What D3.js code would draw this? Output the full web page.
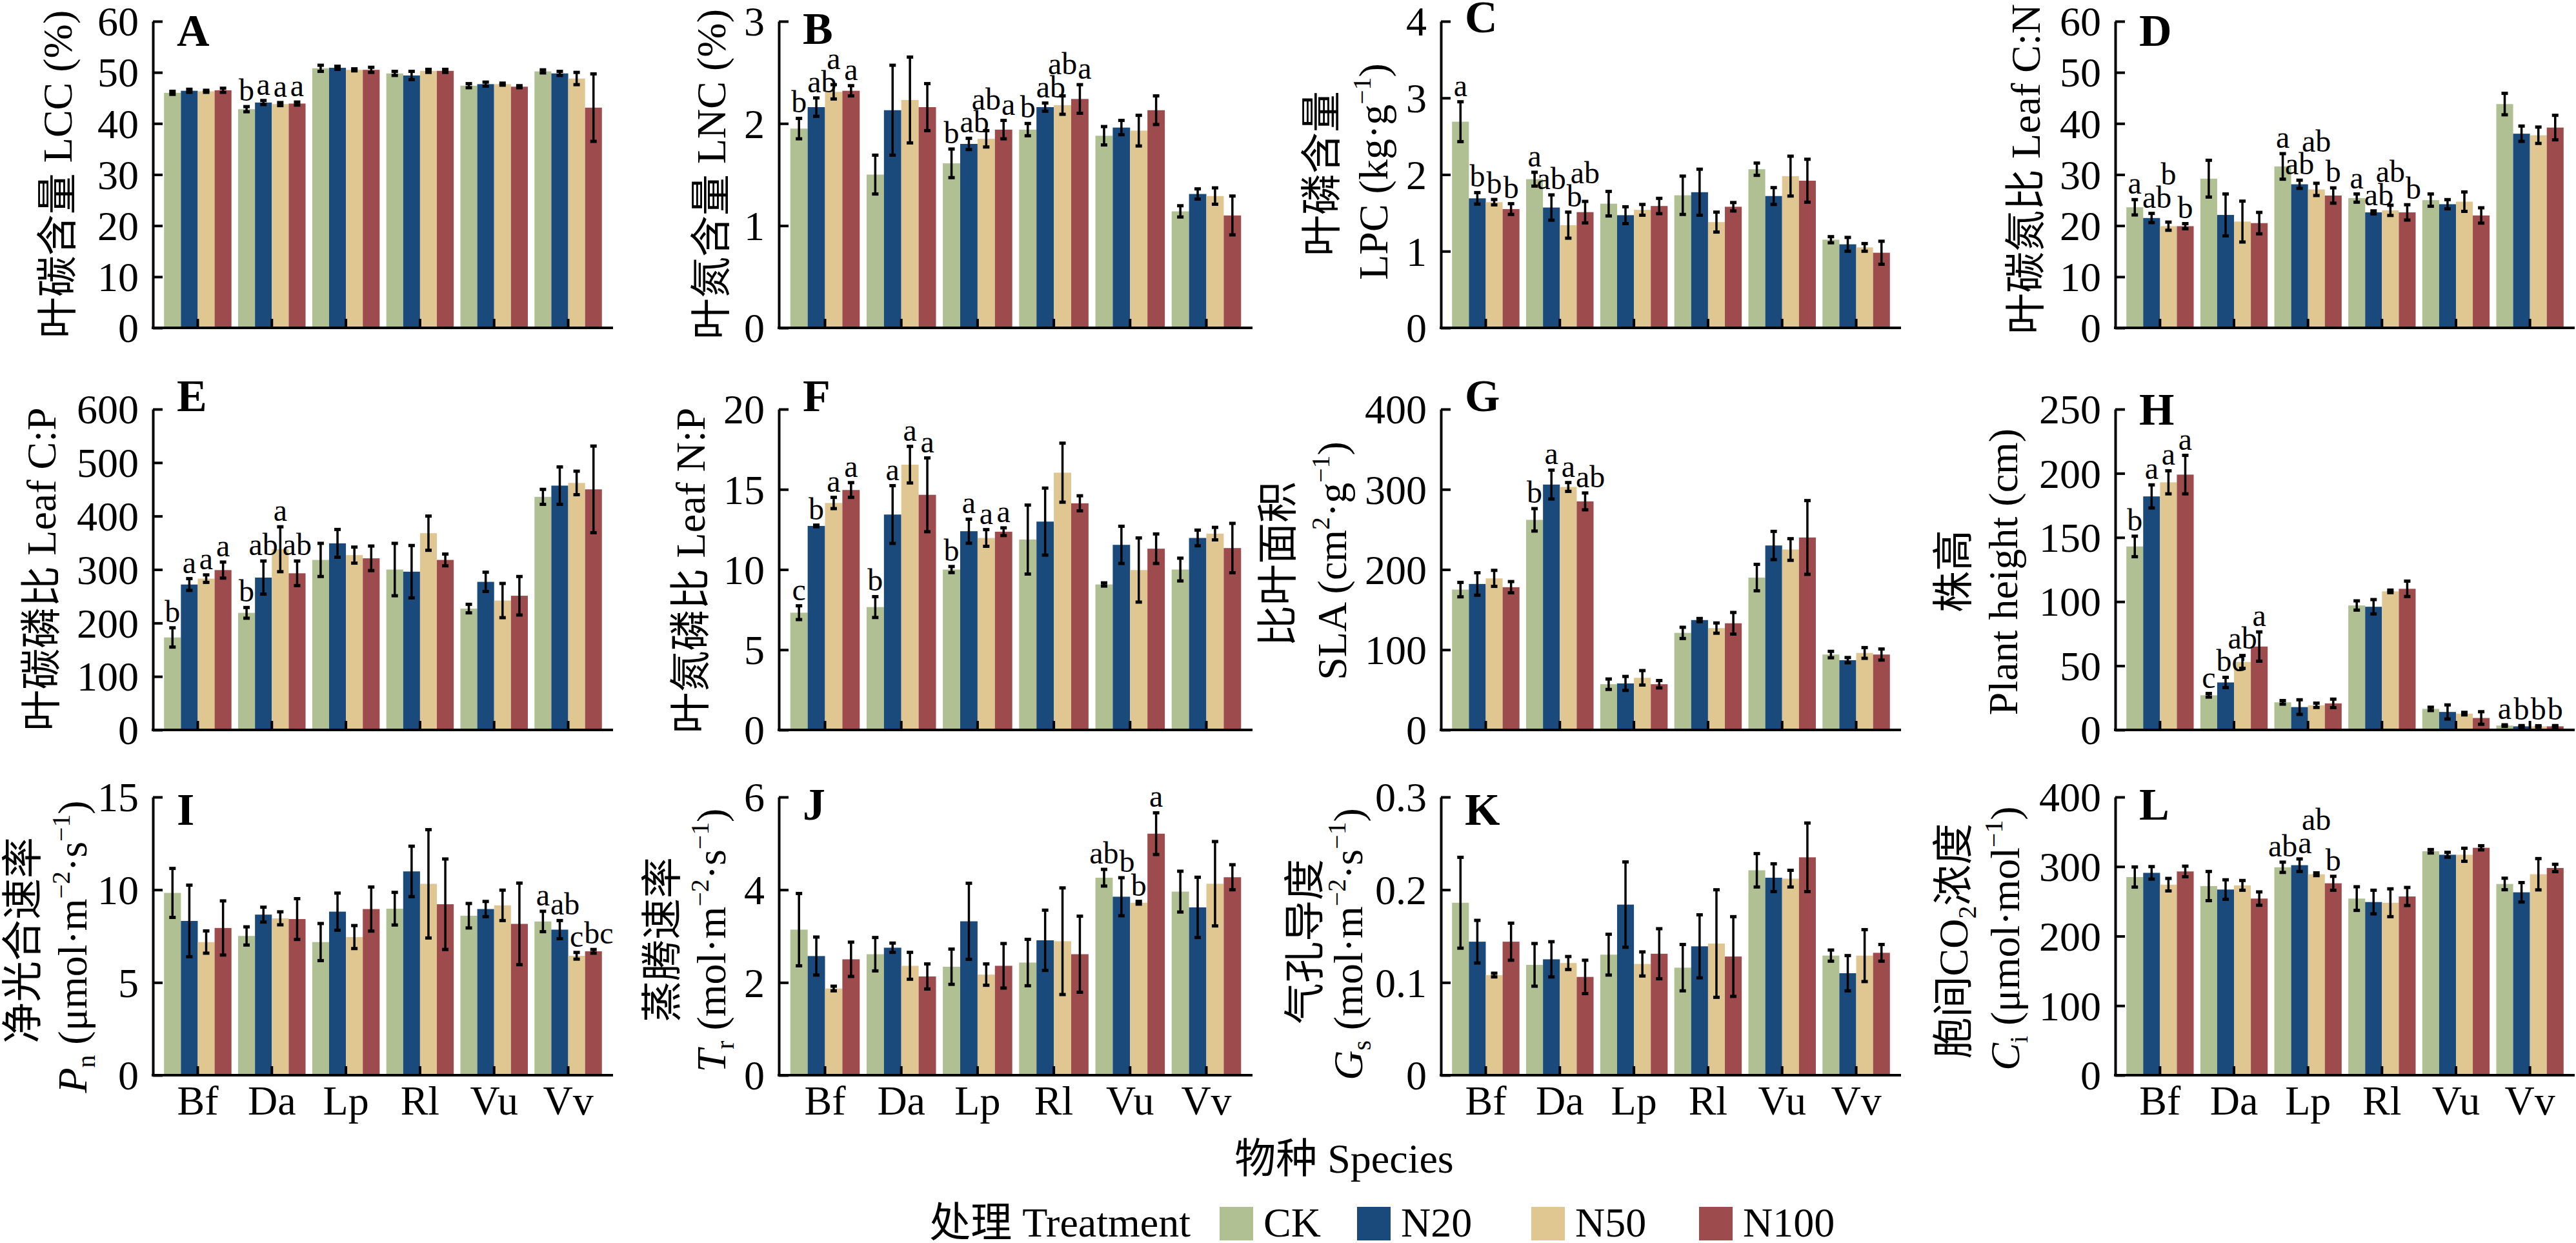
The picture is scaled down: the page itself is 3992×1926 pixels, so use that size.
<!DOCTYPE html>
<html><head><meta charset="utf-8">
<script src="https://cdn.jsdelivr.net/npm/d3@7"></script>
<style>html,body{margin:0;padding:0;background:#fff}svg{display:block}</style>
</head><body>
<svg id="chart" width="3992" height="1926"></svg>
<script>
const species = ["Bf","Da","Lp","Rl","Vu","Vv"];
const treatments = ["CK","N20","N50","N100"];
const colors = ["#b0c092","#1a4a7c","#e0c792","#9e4b4e"];

// A: LCC (%)
const lccTicks = [0,10,20,30,40,50,60];
const lccMean = [[46.0,46.4,46.3,46.5],[42.8,44.1,43.8,43.9],[50.8,50.9,50.5,50.5],[49.8,49.4,50.3,50.3],[47.4,47.7,47.7,47.2],[50.2,49.8,48.8,43.1]];
const lccErr  = [[0.3,0.3,0.2,0.4],[0.5,0.4,0.3,0.3],[0.6,0.3,0.2,0.5],[0.4,0.8,0.3,0.3],[0.4,0.4,0.2,0.2],[0.3,0.4,1.2,6.6]];
const lccLetters = [null,["b","a","a","a"],null,null,null,null];

// B: LNC (%)
const lncTicks = [0,1,2,3];
const lncMean = [[1.95,2.16,2.31,2.32],[1.50,2.13,2.23,2.16],[1.61,1.80,1.85,1.94],[1.94,2.16,2.18,2.24],[1.88,1.96,1.93,2.13],[1.14,1.31,1.29,1.10]];
const lncErr  = [[0.10,0.09,0.07,0.05],[0.19,0.44,0.42,0.23],[0.14,0.055,0.08,0.09],[0.06,0.04,0.09,0.14],[0.09,0.07,0.15,0.14],[0.055,0.05,0.08,0.19]];
const lncLetters = [["b","ab","a","a"],null,["b","ab","ab","a"],["b","ab","ab","a"],null,null];

// C: LPC
const lpcTicks = [0,1,2,3,4];
const lpcMean = [[2.69,1.69,1.64,1.55],[1.94,1.57,1.34,1.51],[1.62,1.47,1.54,1.59],[1.73,1.77,1.38,1.58],[2.07,1.72,1.98,1.92],[1.15,1.09,1.05,0.98]];
const lpcErr  = [[0.26,0.075,0.035,0.07],[0.09,0.165,0.17,0.14],[0.16,0.11,0.07,0.10],[0.25,0.30,0.13,0.055],[0.08,0.11,0.26,0.28],[0.04,0.09,0.05,0.15]];
const lpcLetters = [["a","b","b","b"],["a","ab","b","ab"],null,null,null,null];

// D: C:N
const cnTicks = [0,10,20,30,40,50,60];
const cnMean = [[23.6,21.5,19.9,19.9],[29.2,22.1,20.8,20.5],[31.6,28.1,27.1,25.9],[25.4,22.6,23.0,22.6],[25.0,24.2,24.7,22.0],[43.8,38.0,37.7,39.2]];
const cnErr  = [[1.5,0.9,0.8,0.5],[3.6,4.1,4.0,2.1],[2.5,0.8,1.2,1.5],[0.8,0.3,1.0,1.5],[1.2,0.9,1.9,1.5],[2.1,1.5,1.6,2.4]];
const cnLetters = [["a","ab","b","b"],null,["a","ab","ab","b"],["a","ab","ab","b"],null,null];

// E: C:P
const cpTicks = [0,100,200,300,400,500,600];
const cpMean = [[173,272,283,299],[219,285,338,293],[318,349,327,321],[300,296,368,318],[227,277,242,251],[436,457,462,450]];
const cpErr  = [[18,11,7,15],[10,31,42,23],[31,26,15,23],[49,49,32,11],[8,18,32,36],[14,35,22,81]];
const cpLetters = [["b","a","a","a"],["b","ab","a","ab"],null,null,null,null];

// F: N:P
const npTicks = [0,5,10,15,20];
const npMean = [[7.31,12.72,14.15,14.96],[7.66,13.43,16.54,14.66],[10.0,12.39,11.97,12.36],[11.87,12.99,16.04,14.13],[9.07,11.54,9.97,11.30],[10.0,11.97,12.24,11.34]];
const npErr  = [[0.43,0.05,0.35,0.46],[0.65,1.8,1.14,2.3],[0.19,0.75,0.52,0.24],[2.15,2.09,1.84,0.47],[0.1,1.16,2.0,0.92],[0.71,0.49,0.39,1.54]];
const npLetters = [["c","b","a","a"],["b","a","a","a"],["b","a","a","a"],null,null,null];

// G: SLA
const slaTicks = [0,100,200,300,400];
const slaMean = [[175,182,189,178],[262,306,303,285],[57,58,65,57],[121,137,127,133],[190,230,225,240],[94,87,96,94]];
const slaErr  = [[9,14,10,7],[14,18,5.5,10.5],[6.5,8.7,9,4.6],[7,2,6.4,13.5],[16.5,17.6,13.5,46],[4,3.3,6.7,6.9]];
const slaLetters = [null,["b","a","a","ab"],null,null,null,null];

// H: Plant height
const phTicks = [0,50,100,150,200,250];
const phMean = [[143,182,193,199],[27,37,53,65],[21.5,17.8,19.2,20.7],[97,96,108,110],[16.4,14,12.7,9.3],[3.4,2.8,2.8,2.8]];
const phErr  = [[8,9,9,15],[1.4,4,5,11.4],[1.4,5.7,1.7,3.3],[3.6,5.6,1,6],[1.3,5.5,1,4.9],[0.6,0.6,0.5,0.6]];
const phLetters = [["b","a","a","a"],["c","bc","ab","a"],null,null,null,["a","b","b","b"]];

// I: Pn
const pnTicks = [0,5,10,15];
const pnMean = [[9.83,8.32,7.18,7.94],[7.51,8.66,8.46,8.42],[7.18,8.82,7.45,8.96],[8.98,10.99,10.32,9.22],[8.60,8.96,9.16,8.16],[8.29,7.85,6.44,6.68]];
const pnErr  = [[1.32,1.93,0.6,1.46],[0.49,0.4,0.35,1.1],[1.0,1.0,0.62,1.19],[0.88,1.36,2.92,2.44],[0.66,0.41,0.82,2.2],[0.55,0.49,0.18,0.1]];
const pnLetters = [null,null,null,null,null,["a","ab","c","bc"]];

// J: Tr
const trTicks = [0,2,4,6];
const trMean = [[3.14,2.57,1.87,2.50],[2.61,2.75,2.36,2.13],[2.34,3.32,2.17,2.36],[2.43,2.91,2.89,2.61],[4.26,3.85,3.72,5.21],[3.96,3.62,4.13,4.27]];
const trErr  = [[0.78,0.41,0.05,0.37],[0.36,0.1,0.29,0.27],[0.38,0.82,0.23,0.48],[0.5,0.65,1.15,0.82],[0.18,0.41,0.03,0.45],[0.44,0.65,0.91,0.27]];
const trLetters = [null,null,null,null,["ab","b","b","a"],null];

// K: Gs
const gsTicks = [0,0.1,0.2,0.3];
const gsMean = [[0.186,0.144,0.108,0.144],[0.119,0.125,0.121,0.106],[0.130,0.184,0.120,0.131],[0.116,0.139,0.142,0.128],[0.221,0.213,0.212,0.235],[0.129,0.110,0.129,0.132]];
const gsErr  = [[0.049,0.023,0.002,0.02],[0.023,0.019,0.007,0.018],[0.022,0.046,0.013,0.027],[0.025,0.034,0.058,0.043],[0.018,0.015,0.009,0.037],[0.006,0.019,0.028,0.009]];
const gsLetters = [null,null,null,null,null,null];

// L: Ci
const ciTicks = [0,100,200,300,400];
const ciMean = [[285,291,274,293],[272,267,273,254],[299,302,289,276],[254,249,248,257],[322,317,317,327],[275,263,289,298]];
const ciErr  = [[14.5,9,9,7.6],[21,14,7,9.6],[7.4,9,2,10],[17,17,20,13],[2.5,3.5,9.4,3],[8.3,14,22.5,5.3]];
const ciLetters = [null,null,["ab","a","ab","b"],null,null,null];

const legendTitle = "处理 Treatment";
const xTitle = "物种 Species";

// ---------- layout ----------
const SERIF = "'Liberation Serif','Times New Roman','Noto Sans CJK SC',serif";
const FS = 64;
const SIG_FS = 48;
const cols = [[237,950],[1207,1941],[2233,2946],[3278,3990]];
const rows = [[33,508],[634,1131],[1235,1666]];

const S = (t, o={}) => Object.assign({t}, o);
const panels = [
  {id:"A", r:0,c:0, mean:lccMean, err:lccErr, let:lccLetters, ticks:lccTicks, tagY:71,
   lab:[[S("叶碳含量 LCC (%)")]], lx:[89], ly:[270]},
  {id:"B", r:0,c:1, mean:lncMean, err:lncErr, let:lncLetters, ticks:lncTicks, tagY:68,
   lab:[[S("叶氮含量 LNC (%)")]], lx:[1102], ly:[270]},
  {id:"C", r:0,c:2, mean:lpcMean, err:lpcErr, let:lpcLetters, ticks:lpcTicks, tagY:50,
   lab:[[S("叶磷含量")],[S("LPC (kg·g"),S("−1",{sup:1}),S(")")]], lx:[2048,2128], ly:[269,266]},
  {id:"D", r:0,c:3, mean:cnMean, err:cnErr, let:cnLetters, ticks:cnTicks, tagY:71,
   lab:[[S("叶碳氮比 Leaf C:N")]], lx:[3139], ly:[262]},
  {id:"E", r:1,c:0, mean:cpMean, err:cpErr, let:cpLetters, ticks:cpTicks, tagY:637,
   lab:[[S("叶碳磷比 Leaf C:P")]], lx:[64], ly:[882]},
  {id:"F", r:1,c:1, mean:npMean, err:npErr, let:npLetters, ticks:npTicks, tagY:637,
   lab:[[S("叶氮磷比 Leaf N:P")]], lx:[1070], ly:[884]},
  {id:"G", r:1,c:2, mean:slaMean, err:slaErr, let:slaLetters, ticks:slaTicks, tagY:637,
   lab:[[S("比叶面积")],[S("SLA (cm"),S("2",{sup:1}),S("·g"),S("−1",{sup:1}),S(")")]], lx:[1980,2064], ly:[874,869]},
  {id:"H", r:1,c:3, mean:phMean, err:phErr, let:phLetters, ticks:phTicks, tagY:658,
   lab:[[S("株高")],[S("Plant height (cm)")]], lx:[3027,3104], ly:[885,886]},
  {id:"I", r:2,c:0, mean:pnMean, err:pnErr, let:pnLetters, ticks:pnTicks, tagY:1278,
   lab:[[S("净光合速率")],[S("P",{i:1}),S("n",{sub:1}),S(" (μmol·m"),S("−2",{sup:1}),S("·s"),S("−1",{sup:1}),S(")")]], lx:[35,112], ly:[1457,1467]},
  {id:"J", r:2,c:1, mean:trMean, err:trErr, let:trLetters, ticks:trTicks, tagY:1270,
   lab:[[S("蒸腾速率")],[S("T",{i:1}),S("r",{sub:1}),S(" (mol·m"),S("−2",{sup:1}),S("·s"),S("−1",{sup:1}),S(")")]], lx:[1026,1102], ly:[1456,1457]},
  {id:"K", r:2,c:2, mean:gsMean, err:gsErr, let:gsLetters, ticks:gsTicks, tagY:1278,
   lab:[[S("气孔导度")],[S("G",{i:1}),S("s",{sub:1}),S(" (mol·m"),S("−2",{sup:1}),S("·s"),S("−1",{sup:1}),S(")")]], lx:[2022,2089], ly:[1459,1463]},
  {id:"L", r:2,c:3, mean:ciMean, err:ciErr, let:ciLetters, ticks:ciTicks, tagY:1270,
   lab:[[S("胞间CO"),S("2",{sub:1}),S("浓度")],[S("C",{i:1}),S("i",{sub:1}),S(" (μmol·mol"),S("−1",{sup:1}),S(")")]], lx:[3027,3107], ly:[1458,1454]},
];

const svg = d3.select("#chart");
svg.append("rect").attr("width",3992).attr("height",1926).attr("fill","#fff");

function richText(parent, segs, fs) {
  const t = parent.append("text").attr("font-family",SERIF).attr("font-size",fs)
    .attr("text-anchor","middle").attr("y", fs*0.35).attr("fill","#000");
  let cur = 0;
  segs.forEach(s => {
    const target = s.sup ? -0.42*fs : (s.sub ? 0.2*fs : 0);
    const ts = t.append("tspan").text(s.t).attr("dy", target - cur);
    if (s.sup || s.sub) ts.attr("font-size", fs*0.62);
    if (s.i) ts.attr("font-style","italic");
    cur = target;
  });
  return t;
}

panels.forEach(p => {
  const [x0,x1] = cols[p.c];
  const [top,base] = rows[p.r];
  const g = svg.append("g");
  const x = d3.scaleBand().domain(species).range([x0,x1]).paddingInner(0.09).paddingOuter(0.15);
  const xs = d3.scaleBand().domain(treatments).range([0, x.bandwidth()]);
  const y = d3.scaleLinear().domain([0, p.ticks[p.ticks.length-1]]).range([base, top]);

  const data = species.flatMap((s,i) => treatments.map((t,j) => ({
    s, t, j, v:p.mean[i][j], e:p.err[i][j], l: p.let[i] ? p.let[i][j] : null
  })));
  const cx = d => x(d.s) + xs(d.t) + xs.bandwidth()/2;

  g.selectAll("rect.bar").data(data).join("rect").attr("class","bar")
    .attr("x", d => x(d.s) + xs(d.t)).attr("width", xs.bandwidth())
    .attr("y", d => y(d.v)).attr("height", d => base - y(d.v))
    .attr("fill", d => colors[d.j]);

  const eb = g.append("g").attr("stroke","#000");
  eb.selectAll("line.v").data(data).join("line").attr("class","v")
    .attr("x1",cx).attr("x2",cx).attr("y1",d=>y(d.v-d.e)).attr("y2",d=>y(d.v+d.e)).attr("stroke-width",3.5);
  ["t","b"].forEach(sg => {
    const val = d => sg==="t" ? d.v+d.e : d.v-d.e;
    eb.selectAll("line.c"+sg).data(data).join("line").attr("class","c"+sg)
      .attr("x1",d=>cx(d)-5).attr("x2",d=>cx(d)+5)
      .attr("y1",d=>y(val(d))).attr("y2",d=>y(val(d)))
      .attr("stroke-width",5);
  });

  // significance letters with simple left-to-right collision avoidance
  const sig = g.selectAll("text.sig").data(data.filter(d=>d.l)).join("text").attr("class","sig")
    .attr("text-anchor","middle").attr("font-family",SERIF).attr("font-size",SIG_FS)
    .attr("fill","#000").text(d=>d.l);
  const H = SIG_FS*0.72;
  species.forEach(s => {
    let prev = null;
    sig.filter(d => d.s === s).each(function(d) {
      const w = this.getComputedTextLength();
      let c = cx(d), yb = y(d.v + d.e) - 9;
      if (prev) {
        const ox = prev.r - (c - w/2);
        const vov = yb > prev.yb - H && yb - H < prev.yb;
        if (ox > 1 && vov) {
          if (ox <= 9) c += ox + 1;
          else yb = prev.yb - H - 1;
        }
      }
      d3.select(this).attr("x", c).attr("y", yb);
      prev = {r: c + w/2, yb};
    });
  });

  const gy = g.append("g").attr("transform",`translate(${x0},0)`)
    .call(d3.axisLeft(y).tickValues(p.ticks).tickSize(-15).tickSizeOuter(0).tickPadding(22).tickFormat(d=>String(d)));
  gy.attr("font-size",FS).attr("font-family",SERIF);
  gy.selectAll("path,line").attr("stroke","#000").attr("stroke-width",4);
  gy.selectAll("text").attr("fill","#000").attr("dy","0.34em");

  const gx = g.append("g").attr("transform",`translate(0,${base})`)
    .call(d3.axisBottom(x).tickSize(-14).tickSizeOuter(0).tickPadding(16).tickFormat(d => p.r===2 ? d : ""));
  gx.attr("font-size",FS).attr("font-family",SERIF);
  gx.select(".domain").attr("d",`M${x0-2},0H${x1}`);
  gx.selectAll("path,line").attr("stroke","#000").attr("stroke-width",4);
  gx.selectAll("text").attr("fill","#000");

  g.append("text").attr("x", x0+37).attr("y", p.tagY).attr("font-family",SERIF)
    .attr("font-weight","bold").attr("font-size",70).attr("fill","#000").text(p.id);

  p.lab.forEach((segs,k) => {
    const lg = g.append("g").attr("transform",`translate(${p.lx[k]},${p.ly[k]}) rotate(-90)`);
    richText(lg, segs, FS);
  });
});

// x title
svg.append("text").attr("x",2083).attr("y",1817).attr("text-anchor","middle")
  .attr("font-family",SERIF).attr("font-size",FS).attr("fill","#000").text(xTitle);

// legend
const legendX = [1890, 2103, 2373, 2633];
const lg = svg.append("g");
lg.append("text").attr("x",1845).attr("y",1916).attr("text-anchor","end")
  .attr("font-family",SERIF).attr("font-size",FS).attr("fill","#000").text(legendTitle);
const items = lg.selectAll("g.item").data(treatments).join("g").attr("class","item")
  .attr("transform",(d,i)=>`translate(${legendX[i]},0)`);
items.append("rect").attr("x",0).attr("y",1870).attr("width",52).attr("height",52).attr("fill",(d,i)=>colors[i]);
items.append("text").attr("x",68).attr("y",1916).attr("font-family",SERIF).attr("font-size",FS).attr("fill","#000").text(d=>d);
</script>
</body></html>
